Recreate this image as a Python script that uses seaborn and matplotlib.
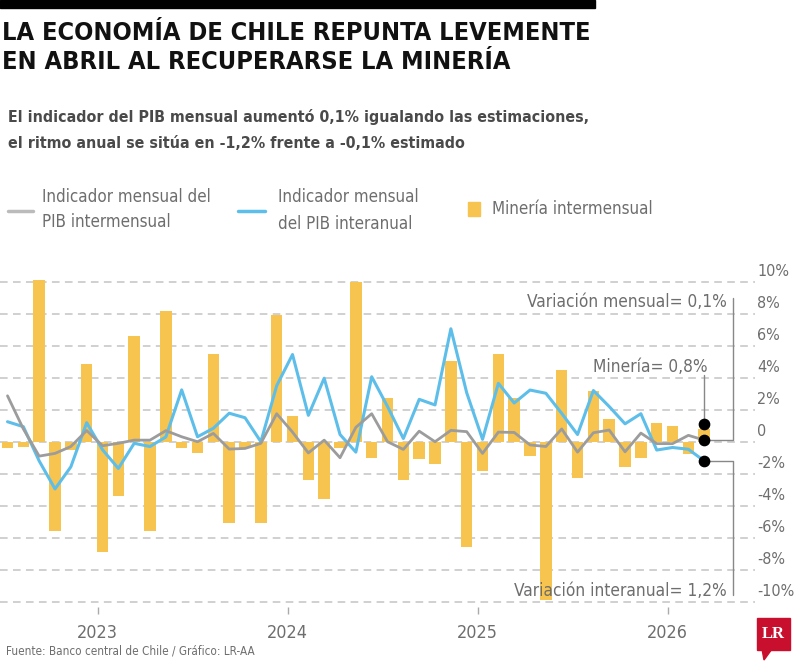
import pandas as pd
import matplotlib
matplotlib.use("Agg")
import matplotlib.pyplot as plt
import matplotlib.transforms as mtransforms
from matplotlib.patches import Rectangle, Polygon
from matplotlib.lines import Line2D
import seaborn as sns

# Monthly data, Aug 2022 - Apr 2026
months = pd.date_range("2022-08-01", "2026-04-01", freq="MS")
mineria = [-0.4, -0.3, 10.1, -5.6, -0.5, 4.85, -6.9, -3.4, 6.6, -5.6,
           8.2, -0.4, -0.7, 5.5, -5.1, -0.4, -5.1, 7.95, 1.6, -2.4,
           -3.6, -0.4, 10.0, -1.0, 2.75, -2.4, -1.1, -1.4, 5.05, -6.6,
           -1.8, 5.5, 2.75, -0.9, -9.9, 4.5, -2.25, 3.2, 1.4, -1.6,
           -1.0, 1.15, 1.0, -0.75, 0.8]
pib_mensual = [2.87, 0.8, -0.9, -0.73, -0.3, 0.7, -0.25, -0.1, 0.1, 0.1,
               0.69, 0.31, 0.0, 0.52, -0.46, -0.42, -0.1, 1.75, 0.6, -0.7,
               0.1, -1.0, 0.9, 1.75, 0.0, -0.48, 0.66, 0.0, 0.71, 0.63,
               -0.73, 0.6, 0.58, -0.2, -0.3, 0.8, -0.65, 0.56, 0.73, -0.63,
               0.54, -0.12, -0.12, 0.4, 0.1]
pib_anual = [1.25, 0.94, -1.2, -2.95, -1.57, 1.19, -0.5, -1.67, -0.1, -0.3,
             0.3, 3.24, 0.31, 0.84, 1.78, 1.5, 0.0, 3.5, 5.45, 1.65,
             3.97, 0.45, -0.65, 4.06, 2.2, 0.2, 2.65, 2.3, 7.06, 3.06,
             0.15, 3.65, 2.42, 3.23, 3.03, 1.77, 0.45, 3.2, 2.2, 1.12,
             1.75, -0.52, -0.36, -0.47, -1.2]
years = ["2023", "2024", "2025", "2026"]
y_ticks = [10, 8, 6, 4, 2, 0, -2, -4, -6, -8, -10]
y_labels = ["10%", "8%", "6%", "4%", "2%", "0", "-2%", "-4%", "-6%", "-8%", "-10%"]

df = pd.DataFrame({"mes": months, "mineria": mineria,
                   "mensual": pib_mensual, "anual": pib_anual})
df["idx"] = range(len(df))

YELLOW = "#F6C44F"
BLUE = "#5EBEEA"
GRAY = "#9C9C9C"
TXT = "#6E6E6E"

sns.set_theme(style="white")
plt.rcParams['font.family'] = ['DejaVu Sans']
plt.rcParams['font.stretch'] = 'condensed'

fig = plt.figure(figsize=(8, 6.66), dpi=100)
ax = fig.add_axes([0, 0.0893, 0.944, 0.4973])

# dashed grid
for v in y_ticks:
    ax.axhline(v, color="#C4C4C4", lw=1.1, ls=(0, (5, 3.5)), zorder=0)

sns.barplot(data=df, x="idx", y="mineria", native_scale=True, width=0.73,
            color=YELLOW, saturation=1, linewidth=0, ax=ax, zorder=1)
sns.lineplot(data=df, x="idx", y="mensual", color=GRAY, lw=2.0, ax=ax, zorder=3)
sns.lineplot(data=df, x="idx", y="anual", color=BLUE, lw=2.2, ax=ax, zorder=2)

ax.set_xlim(-0.474, 47.22)
ax.set_ylim(-10.3, 10.4)
for s in ax.spines.values():
    s.set_visible(False)
ax.set_xlabel("")
ax.set_ylabel("")
ax.set_yticks([])

year_pos = [list(df["mes"].dt.year).index(int(y)) + 0.7 for y in years]
ax.set_xticks(year_pos)
ax.set_xticklabels(years, fontsize=12.9, color=TXT)
ax.tick_params(axis="x", bottom=True, length=5, width=1, color="#AAAAAA", pad=7.5)

# right-side percentage labels
ytrans = mtransforms.offset_copy(ax.get_yaxis_transform(), fig=fig, y=3, units="dots")
for v, lab in zip(y_ticks, y_labels):
    ax.text(1.003, v, lab, transform=ytrans, ha="left", va="bottom",
            fontsize=11.5, color=TXT)

# annotations for last values
last = len(df) - 1
xr = 45.83
ax.plot([xr, xr, last], [8.98, pib_mensual[-1], pib_mensual[-1]],
        color="#888888", lw=1, zorder=4)
ax.plot([last, last], [4.15, mineria[-1]], color="#888888", lw=1, zorder=4)
ax.plot([last, xr, xr], [pib_anual[-1], pib_anual[-1], -9.6],
        color="#888888", lw=1, zorder=4)
ax.scatter([last, last, last], [mineria[-1] + 0.3, pib_mensual[-1], pib_anual[-1]],
           s=55, color="black", zorder=5)
ax.text(45.45, 8.73, "Variación mensual= 0,1%", ha="right", va="center",
        fontsize=12.4, color=TXT)
ax.text(44.2, 4.67, "Minería= 0,8%", ha="right", va="center",
        fontsize=12.4, color=TXT)
ax.text(45.45, -9.33, "Variación interanual= 1,2%", ha="right", va="center",
        fontsize=12.4, color=TXT)

# header
fig.patches.append(Rectangle((0, 1 - 8 / 666), 595 / 800, 8 / 666,
                             transform=fig.transFigure, color="black"))
fig.text(0.0025, 1 - 33 / 666, "LA ECONOMÍA DE CHILE REPUNTA LEVEMENTE",
         fontsize=18.2, fontweight="bold", color="#111111", va="center")
fig.text(0.0025, 1 - 62 / 666, "EN ABRIL AL RECUPERARSE LA MINERÍA",
         fontsize=18.2, fontweight="bold", color="#111111", va="center")
fig.text(0.01, 1 - 117 / 666,
         "El indicador del PIB mensual aumentó 0,1% igualando las estimaciones,",
         fontsize=11.45, fontweight="bold", color="#4A4A4A", va="center")
fig.text(0.01, 1 - 143 / 666,
         "el ritmo anual se sitúa en -1,2% frente a -0,1% estimado",
         fontsize=11.45, fontweight="bold", color="#4A4A4A", va="center")

# legend
fig.lines.append(Line2D([8 / 800, 33 / 800], [1 - 211 / 666] * 2, lw=2.5,
                        color="#BBBBBB", transform=fig.transFigure))
fig.text(42 / 800, 1 - 197 / 666, "Indicador mensual del", fontsize=12.2,
         color=TXT, va="center")
fig.text(42 / 800, 1 - 222 / 666, "PIB intermensual", fontsize=12.2,
         color=TXT, va="center")
fig.lines.append(Line2D([238 / 800, 265 / 800], [1 - 211 / 666] * 2, lw=2.5,
                        color=BLUE, transform=fig.transFigure))
fig.text(278 / 800, 1 - 197 / 666, "Indicador mensual", fontsize=12.2,
         color=TXT, va="center")
fig.text(278 / 800, 1 - 224 / 666, "del PIB interanual", fontsize=12.2,
         color=TXT, va="center")
fig.patches.append(Rectangle((468 / 800, 1 - 216 / 666), 12 / 800, 14 / 666,
                             transform=fig.transFigure, color=YELLOW))
fig.text(492 / 800, 1 - 209 / 666, "Minería intermensual", fontsize=12.2,
         color=TXT, va="center")

# footer
fig.text(6 / 800, 1 - 651 / 666, "Fuente: Banco central de Chile / Gráfico: LR-AA",
         fontsize=8.4, color=TXT, va="center")
fig.patches.append(Rectangle((757 / 800, 1 - 650 / 666), 33 / 800, 32 / 666,
                             transform=fig.transFigure, color="#C8102E"))
fig.patches.append(Polygon([(762 / 800, 1 - 649 / 666), (772 / 800, 1 - 649 / 666),
                            (764 / 800, 1 - 660 / 666)],
                           transform=fig.transFigure, color="#C8102E"))
fig.text(773.5 / 800, 1 - 634 / 666, "LR", fontsize=12, fontweight="bold",
         color="white", ha="center", va="center", family="Liberation Serif",
         stretch="normal")

fig.savefig("out.png", dpi=100)
